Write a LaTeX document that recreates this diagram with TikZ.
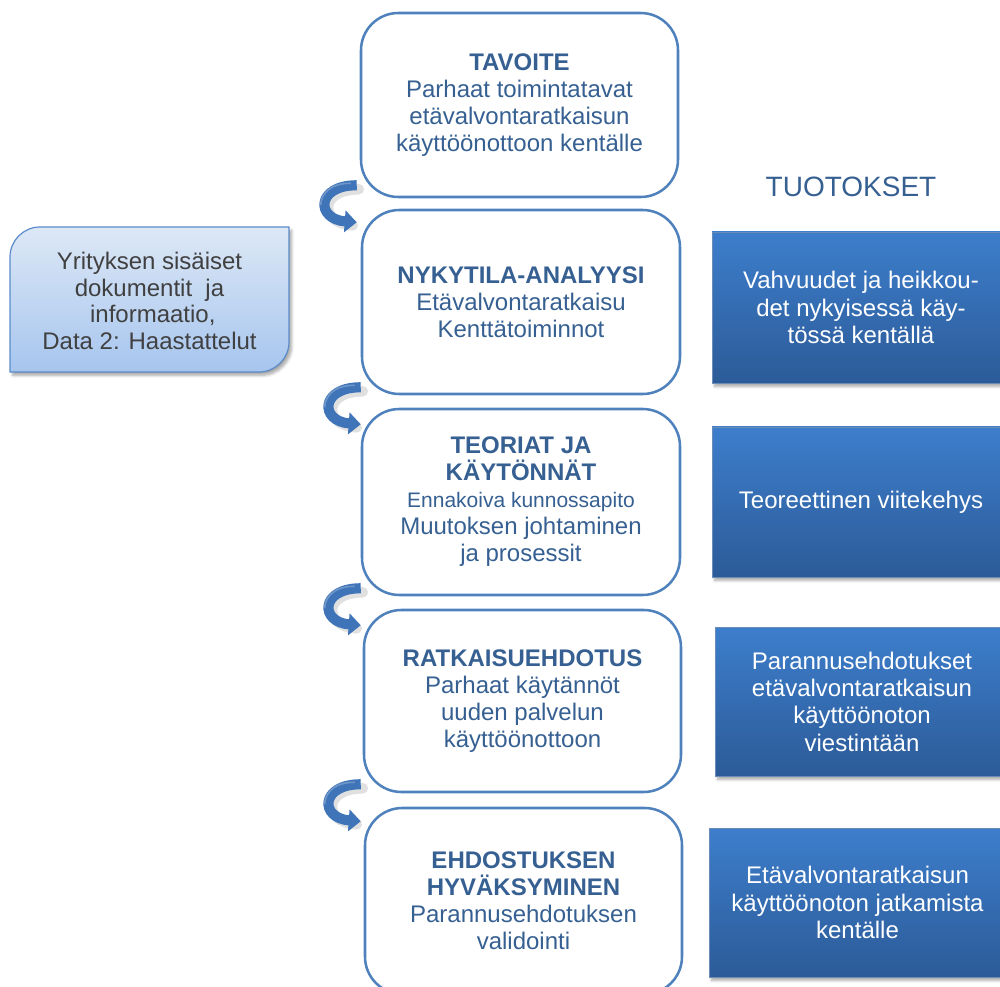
\documentclass[tikz,border=0pt]{standalone}
\usepackage{fontspec}
\setmainfont{Liberation Sans}
\usetikzlibrary{shadows,shadows.blur,calc,arrows.meta}

\definecolor{frameblue}{HTML}{4F81BD}
\definecolor{textblue}{HTML}{366092}
\definecolor{outtop}{HTML}{3D7ECC}
\definecolor{outbot}{HTML}{2C5B98}
\definecolor{srctop}{HTML}{DDE8F6}
\definecolor{srcbot}{HTML}{A6C5EE}
\definecolor{srcedge}{HTML}{5B8BC9}
\definecolor{srctext}{HTML}{404040}
\definecolor{arrowblue}{HTML}{3F74B8}

\tikzset{
  px size/.style 2 args={minimum width=0.75*#1 pt, minimum height=0.75*#2 pt},
  stagebox/.style={draw=frameblue, line width=1.9pt, rounded corners=28pt,
    fill=white, align=center, text=textblue, inner sep=0pt,
    font=\fontsize{18}{20.25}\selectfont},
  outbox/.style={draw=outbot!70!white, line width=0.5pt, top color=outtop,
    bottom color=outbot, align=center, text=white, inner sep=0pt,
    font=\fontsize{18}{20.5}\selectfont,
    blur shadow={shadow xshift=2pt, shadow yshift=-2.5pt, shadow blur steps=6,
      shadow opacity=35}},
  srcbox/.style={draw=srcedge, line width=0.9pt, top color=srctop,
    bottom color=srcbot,
    blur shadow={shadow xshift=2pt, shadow yshift=-2.5pt, shadow blur steps=6,
      shadow opacity=35}},
  pics/turnarrow/.style={code={
    \draw[line width=8pt, black, opacity=0.12, line cap=round]
      (2,4) .. controls (-38,4) and (-38,38) .. (-4,40);
    \draw[line width=7.6pt, arrowblue,
      -{Triangle[length=9pt,width=16pt]}]
      (0,0) .. controls (-41,0) and (-41,34) .. (0,37);
    \draw[line width=1.2pt, white, opacity=0.25]
      (-6,-2) .. controls (-30,-2) and (-36,12) .. (-36,20);
  }}
}

\begin{document}
\begin{tikzpicture}[x=0.75pt,y=-0.75pt]
\useasboundingbox (0,0) rectangle (1000,987);
\clip (0,0) rectangle (1000,987);

% stages of the work
\node[stagebox, px size={317}{184}] (goal) at (519.5,105)
  {\textbf{TAVOITE}\\Parhaat toimintatavat\\etävalvontaratkaisun\\käyttöönottoon kentälle};
\node[stagebox, px size={318}{184}] (now) at (521,302)
  {\textbf{NYKYTILA-ANALYYSI}\\Etävalvontaratkaisu\\Kenttätoiminnot};
\node[stagebox, px size={318}{186}] (theory) at (521,502)
  {\textbf{TEORIAT JA}\\\textbf{KÄYTÖNNÄT}\\{\fontsize{15.75}{20}\selectfont Ennakoiva kunnossapito}\\Muutoksen johtaminen\\ja prosessit};
\node[stagebox, px size={317}{182}] (proposal) at (522.5,701)
  {\textbf{RATKAISUEHDOTUS}\\Parhaat käytännöt\\uuden palvelun\\käyttöönottoon};
\node[stagebox, px size={317}{186}] (accept) at (523.5,901)
  {\textbf{EHDOSTUKSEN}\\\textbf{HYVÄKSYMINEN}\\Parannusehdotuksen\\validointi};

% curved arrows between the stages
\pic at ($(goal.south west)+(-3,-13)$) {turnarrow};
\pic at ($(now.south west)+(0,-8)$) {turnarrow};
\pic at ($(theory.south west)+(0,-8)$) {turnarrow};
\pic at ($(proposal.south west)+(-2,-9)$) {turnarrow};

% source material
\path[srcbox] (10,372) -- (10,257) .. controls (10,240.5) and (23.5,227) .. (40,227)
  -- (289,227) -- (289,342) .. controls (289,358.5) and (275.5,372) .. (259,372) -- cycle;
\node[align=center, text=srctext, font=\fontsize{18}{20}\selectfont] (source) at (149.5,301)
  {Yrityksen sisäiset\\dokumentit\ \ ja\\\ informaatio,\\Data 2: Haastattelut};

% outputs
\node[text=textblue, font=\fontsize{21}{24}\selectfont] (outputs) at (851,187) {TUOTOKSET};
\node[outbox, px size={298}{151}] (out1) at (861,307.5)
  {Vahvuudet ja heikkou-\\det nykyisessä käy-\\tössä kentällä};
\node[outbox, px size={298}{150}] (out2) at (861,502)
  {Teoreettinen viitekehys};
\node[outbox, px size={294}{149}] (out3) at (862,701.5)
  {Parannusehdotukset\\etävalvontaratkaisun\\käyttöönoton\\viestintään};
\node[outbox, px size={297}{149}] (out4) at (857.5,902.5)
  {Etävalvontaratkaisun\\käyttöönoton jatkamista\\kentälle};
\end{tikzpicture}
\end{document}
